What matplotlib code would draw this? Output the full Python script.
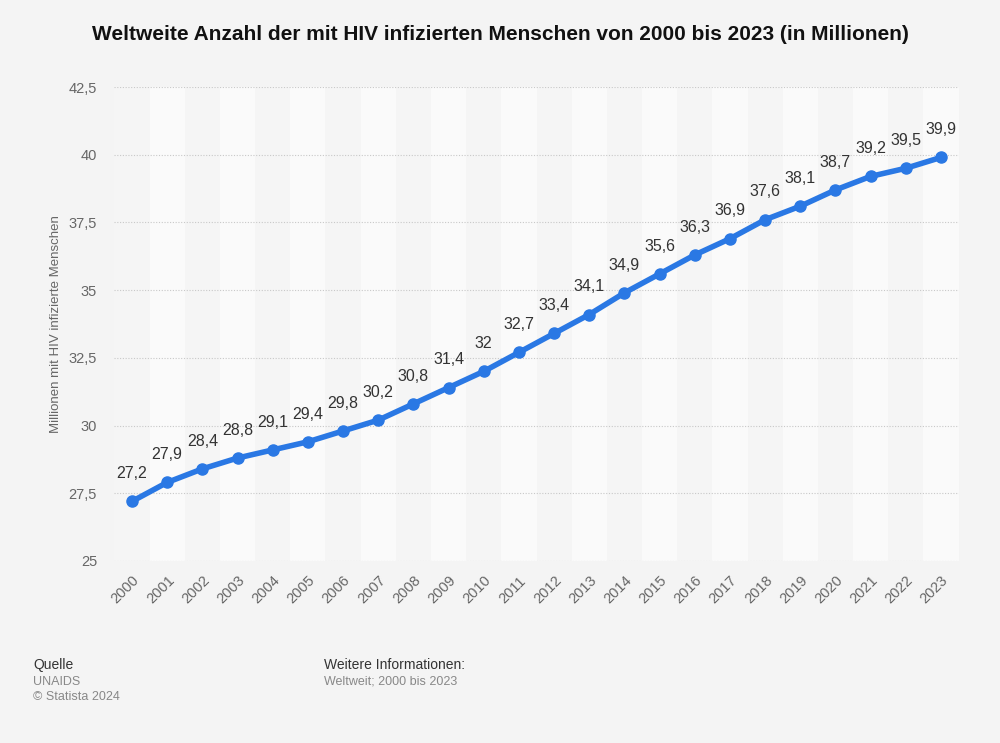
import matplotlib.pyplot as plt
from matplotlib.ticker import FuncFormatter

years = list(range(2000, 2024))
values = [27.2, 27.9, 28.4, 28.8, 29.1, 29.4, 29.8, 30.2, 30.8, 31.4, 32.0, 32.7,
          33.4, 34.1, 34.9, 35.6, 36.3, 36.9, 37.6, 38.1, 38.7, 39.2, 39.5, 39.9]
yticks = [25, 27.5, 30, 32.5, 35, 37.5, 40, 42.5]

plt.rcParams['font.family'] = ['Liberation Sans', 'DejaVu Sans']

BG = '#f4f4f4'
fig = plt.figure(figsize=(10, 7.43), dpi=100, facecolor=BG)
ax = fig.add_axes([0.1144, 0.2450, 0.8442, 0.6379])
ax.set_facecolor(BG)


def de_fmt(v, pos=None):
    s = ('%.1f' % v).rstrip('0').rstrip('.')
    return s.replace('.', ',')


x = list(range(len(years)))
# alternating column bands
for i in x:
    ax.axvspan(i - 0.5, i + 0.5, color='#fafafa' if i % 2 else '#f5f5f5', lw=0, zorder=0)

for t in yticks:
    ax.axhline(t, color='#c8c8c8', lw=0.8, ls=(0, (1, 1.5)), zorder=1)

ax.plot(x, values, color='#2a78e4', lw=4, marker='o', ms=8, zorder=3,
        solid_capstyle='round')

for xi, v in zip(x, values):
    ax.annotate(de_fmt(v), (xi, v), xytext=(0, 20), textcoords='offset points',
                ha='center', va='center', fontsize=11.5, color='#333333')

ax.set_xlim(-0.5, len(years) - 0.5)
ax.set_ylim(25, 42.5)
ax.set_yticks(yticks)
ax.yaxis.set_major_formatter(FuncFormatter(de_fmt))
ax.set_xticks(x)
ax.set_xticklabels([str(y) for y in years], rotation=45, ha='right',
                   rotation_mode='anchor')
ax.tick_params(axis='both', length=0, colors='#666666', labelsize=10.5)
ax.tick_params(axis='y', pad=12.5)
ax.tick_params(axis='x', pad=9)
for s in ax.spines.values():
    s.set_visible(False)

ax.set_ylabel('Millionen mit HIV infizierte Menschen', fontsize=9.5, color='#666666',
              labelpad=4.5)

fig.text(0.5, 0.953, 'Weltweite Anzahl der mit HIV infizierten Menschen von 2000 bis 2023 (in Millionen)',
         ha='center', va='center', fontsize=15, fontweight='bold', color='#111111')

fig.text(0.033, 1 - 665 / 743, 'Quelle', fontsize=10, color='#333333', va='center')
fig.text(0.033, 1 - 682 / 743, 'UNAIDS', fontsize=9, color='#888888', va='center')
fig.text(0.033, 1 - 697 / 743, '\u00a9 Statista 2024', fontsize=9, color='#888888', va='center')
fig.text(0.324, 1 - 665 / 743, 'Weitere Informationen:', fontsize=10, color='#333333', va='center')
fig.text(0.324, 1 - 682 / 743, 'Weltweit; 2000 bis 2023', fontsize=9, color='#888888', va='center')

fig.savefig('out.png', dpi=100, facecolor=BG)
